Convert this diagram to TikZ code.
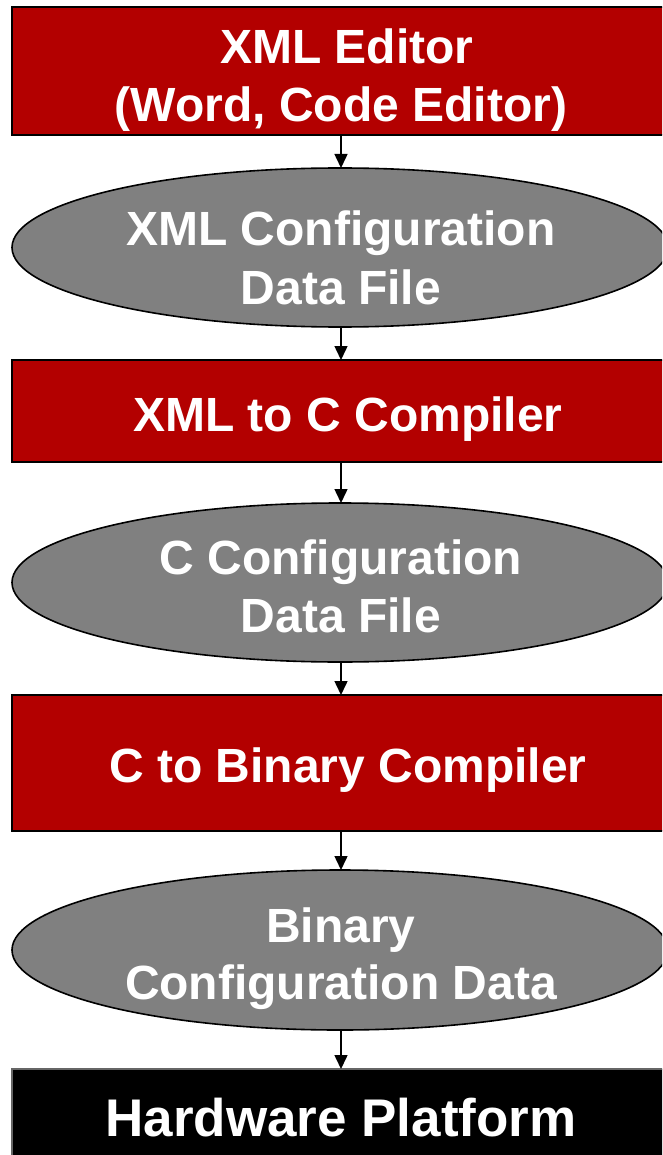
\documentclass[tikz,border=0pt]{standalone}
\usepackage{fontspec}
\setmainfont{Liberation Sans}
\usetikzlibrary{shapes.geometric,arrows.meta}

\definecolor{stagered}{HTML}{B30000}
\definecolor{datagray}{HTML}{808080}

\tikzset{
  stagebox/.style={rectangle, draw=black, line width=2pt, fill=stagered,
    minimum width=680pt, inner sep=0pt, outer sep=0pt},
  hwbox/.style={rectangle, draw=black!60, line width=2pt, fill=black,
    minimum width=680pt, inner sep=0pt, outer sep=0pt},
  datafile/.style={ellipse, draw=black, line width=1.6pt, fill=datagray,
    minimum width=656pt, inner sep=0pt, outer sep=0pt},
  caption/.style={anchor=base, text=white, inner sep=0pt,
    font=\bfseries\fontsize{48}{58}\selectfont},
  flow/.style={line width=1.5pt, -{Triangle[width=13pt,length=14pt]}}
}

\begin{document}
\begin{tikzpicture}[x=1pt,y=-1pt]
  \useasboundingbox (0,0) rectangle (662,1155);
  \clip (0,0) rectangle (662,1155);

  % processing stages and data files
  \node[stagebox, minimum height=128pt] (editor) at (352,71) {};
  \node[datafile, minimum height=159pt] (xmldata) at (340,247.5) {};
  \node[stagebox, minimum height=102pt] (xml2c) at (352,411) {};
  \node[datafile, minimum height=159pt] (cdata) at (340,582.5) {};
  \node[stagebox, minimum height=136pt] (c2bin) at (352,763) {};
  \node[datafile, minimum height=160pt] (bindata) at (340,950) {};
  \node[hwbox, minimum height=111pt] (hw) at (352,1124.5) {};

  % labels
  \node[caption] (editorA) at (347,64) {XML Editor};
  \node[caption] (editorB) at (341,122) {(Word, Code Editor)};
  \node[caption] (xmldataA) at (341,246) {XML Configuration};
  \node[caption] (xmldataB) at (341,304) {Data File};
  \node[caption] (xml2cA) at (348,431) {XML to C Compiler};
  \node[caption] (cdataA) at (341,574) {C Configuration};
  \node[caption] (cdataB) at (341,632) {Data File};
  \node[caption] (c2binA) at (348,782) {C to Binary Compiler};
  \node[caption] (bindataA) at (341,942) {Binary};
  \node[caption] (bindataB) at (341,999) {Configuration Data};
  \node[caption, font=\bfseries\fontsize{53}{60}\selectfont] (hwA) at (341,1136) {Hardware Platform};

  % flow arrows
  \draw[flow] (editor.south -| 341,0) -- (xmldata.north -| 341,0);
  \draw[flow] (xmldata.south -| 341,0) -- (xml2c.north -| 341,0);
  \draw[flow] (xml2c.south -| 341,0) -- (cdata.north -| 341,0);
  \draw[flow] (cdata.south -| 341,0) -- (c2bin.north -| 341,0);
  \draw[flow] (c2bin.south -| 341,0) -- (bindata.north -| 341,0);
  \draw[flow] (bindata.south -| 341,0) -- (hw.north -| 341,0);
\end{tikzpicture}
\end{document}
